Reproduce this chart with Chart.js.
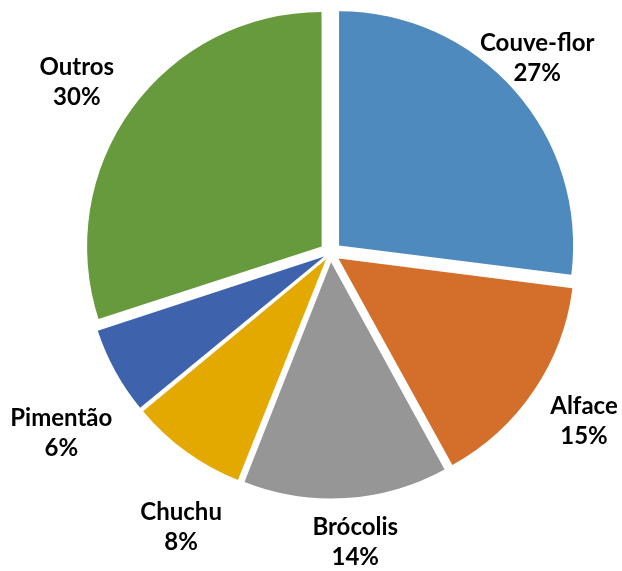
<!DOCTYPE html>
<html>
<head>
<meta charset="utf-8">
<script src="https://cdn.jsdelivr.net/npm/chart.js@4"></script>
<style>
html,body{margin:0;padding:0;background:#fff;}
#wrap{width:622px;height:571px;}
</style>
</head>
<body>
<div id="wrap"><canvas id="c" width="622" height="571"></canvas></div>
<script>
const categories = ["Couve-flor", "Alface", "Brócolis", "Chuchu", "Pimentão", "Outros"];
const values = [27, 15, 14, 8, 6, 30];
const percentLabels = ["27%", "15%", "14%", "8%", "6%", "30%"];
const colors = ["#4F8ABE", "#D36F2A", "#969696", "#E3A900", "#3E62AC", "#679A3C"];
// label placement style: angular shift from slice bisector (deg) and distance from centre (px)
const labelShift = [-1.9, -0.7, -1.3, -7.4, -5.0, -2.0];
const labelDist = [284, 304, 290, 312, 324, 306];

const EXPLODE = 11.5;
const total = values.reduce((a, b) => a + b, 0);

const labelPlugin = {
  id: 'outsideLabels',
  afterDatasetsDraw(chart) {
    const ctx = chart.ctx;
    const meta = chart.getDatasetMeta(0);
    ctx.save();
    ctx.font = 'bold 24px Lato, "Open Sans", sans-serif';
    ctx.fillStyle = '#000';
    ctx.textAlign = 'center';
    ctx.textBaseline = 'middle';
    meta.data.forEach((arc, i) => {
      const p = arc.getProps(['x', 'y', 'startAngle', 'endAngle'], true);
      const a = (p.startAngle + p.endAngle) / 2 + labelShift[i] * Math.PI / 180;
      const cx = p.x + labelDist[i] * Math.cos(a);
      const cy = p.y + labelDist[i] * Math.sin(a);
      ctx.fillText(categories[i], cx, cy - 15);
      ctx.fillText(percentLabels[i], cx, cy + 15);
    });
    ctx.restore();
  }
};

new Chart(document.getElementById('c'), {
  type: 'pie',
  data: {
    labels: categories,
    datasets: [{
      data: values,
      backgroundColor: colors,
      borderWidth: 0,
      offset: (c) => {
        const v = c.dataset.data[c.dataIndex];
        const circ = v / total * 2 * Math.PI;
        const fix = 1 - Math.sin(Math.min(Math.PI, circ));
        return 4 * EXPLODE / (1 + fix);
      }
    }]
  },
  options: {
    responsive: false,
    devicePixelRatio: 1,
    animation: false,
    events: [],
    radius: 234,
    layout: { padding: { left: 39, right: 0, top: 0, bottom: 65 } },
    plugins: {
      legend: { display: false },
      tooltip: { enabled: false }
    }
  },
  plugins: [labelPlugin]
});
</script>
</body>
</html>
